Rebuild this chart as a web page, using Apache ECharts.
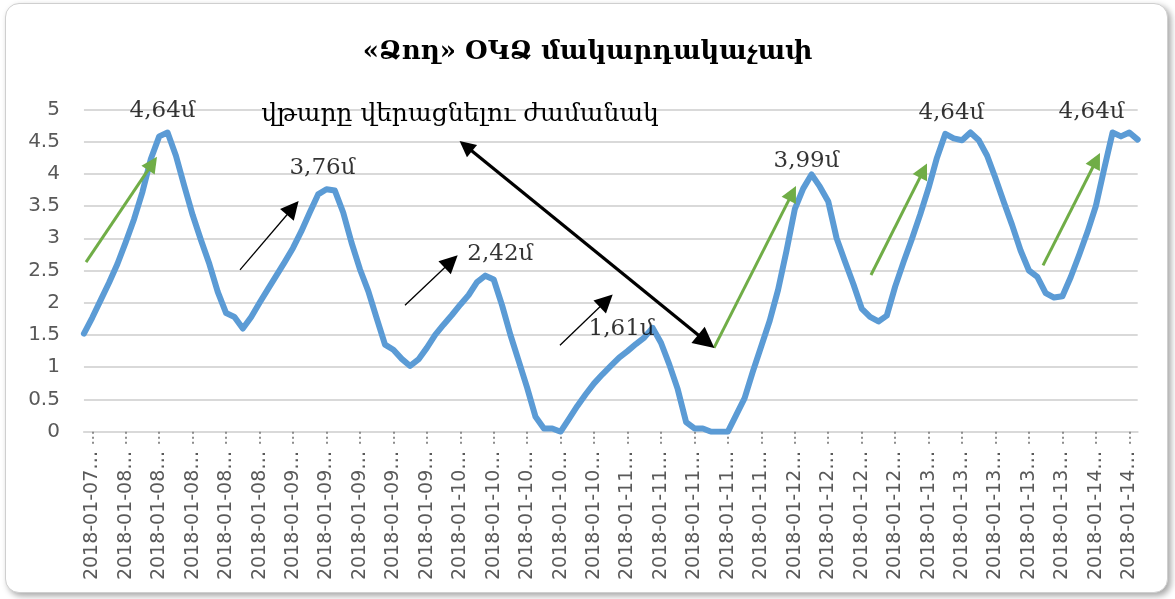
<!DOCTYPE html>
<html>
<head>
<meta charset="utf-8">
<script src="https://cdn.jsdelivr.net/npm/echarts@6/dist/echarts.min.js"></script>
<style>
  html, body { margin: 0; padding: 0; background: #ffffff; width: 1175px; height: 599px; overflow: hidden; }
  #card { position: absolute; left: 5px; top: 3px; width: 1161px; height: 588px; border: 1px solid #cfcfcf;
          border-radius: 14px; box-shadow: 3px 3px 6px rgba(0,0,0,0.35); background: #ffffff; }
  #chart { position: absolute; left: 0; top: 0; width: 1175px; height: 599px; }
</style>
</head>
<body>
<div id="card"></div>
<div id="chart"></div>
<script>
// Water level at the «Ձող» gauge, metres
const titleText = '«Ձող» ՕԿՁ մակարդակաչափ';
const noteText = 'վթարը վերացնելու ժամանակ';

// dates of the labelled ticks (one label every 4 readings, starting at reading 1)
const tickDays = [
  '2018-01-07',
  '2018-01-08', '2018-01-08', '2018-01-08', '2018-01-08', '2018-01-08',
  '2018-01-09', '2018-01-09', '2018-01-09', '2018-01-09', '2018-01-09',
  '2018-01-10', '2018-01-10', '2018-01-10', '2018-01-10', '2018-01-10',
  '2018-01-11', '2018-01-11', '2018-01-11', '2018-01-11', '2018-01-11',
  '2018-01-12', '2018-01-12', '2018-01-12', '2018-01-12',
  '2018-01-13', '2018-01-13', '2018-01-13', '2018-01-13', '2018-01-13',
  '2018-01-14', '2018-01-14'
];

// level readings, m
const levels = [
  1.52, 1.77, 2.04, 2.31, 2.60, 2.94, 3.30, 3.72, 4.23, 4.58,
  4.64, 4.28, 3.81, 3.36, 2.97, 2.60, 2.17, 1.84, 1.78, 1.60,
  1.78, 2.00, 2.21, 2.42, 2.63, 2.85, 3.11, 3.40, 3.68, 3.76,
  3.74, 3.40, 2.93, 2.52, 2.18, 1.76, 1.35, 1.27, 1.13, 1.02,
  1.12, 1.30, 1.50, 1.66, 1.81, 1.97, 2.12, 2.32, 2.42, 2.36,
  1.96, 1.50, 1.09, 0.68, 0.23, 0.05, 0.05, 0.00, 0.20, 0.40,
  0.58, 0.75, 0.89, 1.02, 1.15, 1.25, 1.36, 1.46, 1.61, 1.38,
  1.04, 0.66, 0.15, 0.05, 0.05, 0.00, 0.00, 0.00, 0.26, 0.52,
  0.94, 1.33, 1.72, 2.20, 2.80, 3.45, 3.77, 3.99, 3.80, 3.57,
  3.00, 2.64, 2.29, 1.91, 1.78, 1.71, 1.80, 2.25, 2.63, 2.99,
  3.37, 3.78, 4.25, 4.62, 4.55, 4.52, 4.64, 4.52, 4.28, 3.93,
  3.56, 3.20, 2.81, 2.50, 2.40, 2.15, 2.08, 2.10, 2.40, 2.74,
  3.10, 3.50, 4.08, 4.64, 4.58, 4.64, 4.53
];

// readings whose value is written above the curve
const peakIdx = [10, 29, 48, 68, 87, 106, 123];
// label offsets (px) from each peak point
const peakOffsets = [[-5, -21], [-4, -21], [15, -22], [-31, 1], [-5, -13], [-19, -19], [-21, -20]];

// annotation arrows in (reading index, level) units
const greenArrows = [
  [[0.25, 2.63], [8.20, 4.16]],
  [[75.34, 1.30], [84.71, 3.70]],
  [[94.11, 2.43], [100.38, 4.05]],
  [[114.68, 2.58], [121.06, 4.21]]
];
const thinArrows = [
  [[18.66, 2.51], [24.97, 3.47]],
  [[38.39, 1.96], [43.91, 2.64]],
  [[56.92, 1.34], [62.45, 2.03]]
];
const boldArrows = [
  [[45.66, 4.43], [74.41, 1.40]]
];

const lastIdx = levels.length - 1;
const categories = levels.map((_, i) => (i % 4 === 1 ? tickDays[(i - 1) / 4] : ''));
const showTick = (i) => i % 4 === 1;
const fmtLevel = (v) => v.toFixed(2).replace('.', ',') + 'մ';

const serif = "'DejaVu Serif', serif";
const sans = "'DejaVu Sans', sans-serif";

const chart = echarts.init(document.getElementById('chart'), null, { renderer: 'canvas' });

function arrowSeries(list, color, width, symbols, size) {
  return {
    type: 'lines',
    coordinateSystem: 'cartesian2d',
    xAxisIndex: 1,
    yAxisIndex: 0,
    silent: true,
    z: 5,
    symbol: symbols,
    symbolSize: size,
    lineStyle: { color: color, width: width, opacity: 1, curveness: 0 },
    itemStyle: { color: color },
    data: list.map((c) => ({ coords: c }))
  };
}

chart.setOption({
  animation: false,
  backgroundColor: 'transparent',
  title: {
    text: titleText,
    left: 'center',
    top: 34,
    textStyle: { fontFamily: serif, fontWeight: 'bold', fontSize: 26, color: '#000000' }
  },
  grid: { left: 83.94, right: 1175 - 83.94 - 126 * 8.363, top: 109.3, bottom: 599 - 431.7, outerBoundsMode: 'none', containLabel: false },
  xAxis: [
    {
      type: 'category',
      data: categories,
      boundaryGap: false,
      axisLine: { show: true, lineStyle: { color: '#d9d9d9', width: 2 } },
      axisTick: { show: true, interval: showTick, length: 15, lineStyle: { color: '#8c8c8c', width: 2, type: [2, 3] } },
      axisLabel: {
        interval: showTick,
        rotate: 90,
        margin: 19,
        fontFamily: sans,
        fontSize: 19,
        color: '#595959',
        formatter: (v) => (v ? v + '…' : '')
      },
      splitLine: { show: false }
    },
    { type: 'value', min: 0, max: lastIdx, show: false }
  ],
  yAxis: {
    type: 'value',
    min: 0,
    max: 5,
    interval: 0.5,
    axisLine: { show: false },
    axisTick: { show: false },
    axisLabel: { margin: 24, fontFamily: sans, fontSize: 20, color: '#595959', formatter: (v) => String(v) },
    splitLine: { lineStyle: { color: '#d9d9d9', width: 2 } }
  },
  graphic: [
    {
      type: 'text',
      x: 460,
      y: 114,
      z: 10,
      style: { text: noteText, fontFamily: serif, fontSize: 25, fill: '#000000', align: 'center', verticalAlign: 'middle' }
    }
  ],
  series: [
    {
      type: 'line',
      data: levels,
      showSymbol: false,
      silent: true,
      z: 3,
      lineStyle: { color: '#5b9bd5', width: 6, cap: 'round', join: 'round' },
      itemStyle: { color: '#5b9bd5' }
    },
    {
      type: 'scatter',
      silent: true,
      z: 6,
      symbolSize: 1,
      itemStyle: { color: 'rgba(0,0,0,0)' },
      data: peakIdx.map((idx, k) => ({
        value: [idx, levels[idx]],
        label: { offset: peakOffsets[k] }
      })),
      label: {
        show: true,
        position: 'inside',
        fontFamily: serif,
        fontSize: 23,
        color: '#000000',
        formatter: (p) => fmtLevel(p.value[1])
      }
    },
    arrowSeries(greenArrows, '#70ad47', 3, ['none', 'triangle'], [14, 16]),
    arrowSeries(thinArrows, '#000000', 1.3, ['none', 'triangle'], [14, 18]),
    arrowSeries(boldArrows, '#000000', 3.2, ['triangle', 'triangle'], [16, 21])
  ]
});
</script>
</body>
</html>
